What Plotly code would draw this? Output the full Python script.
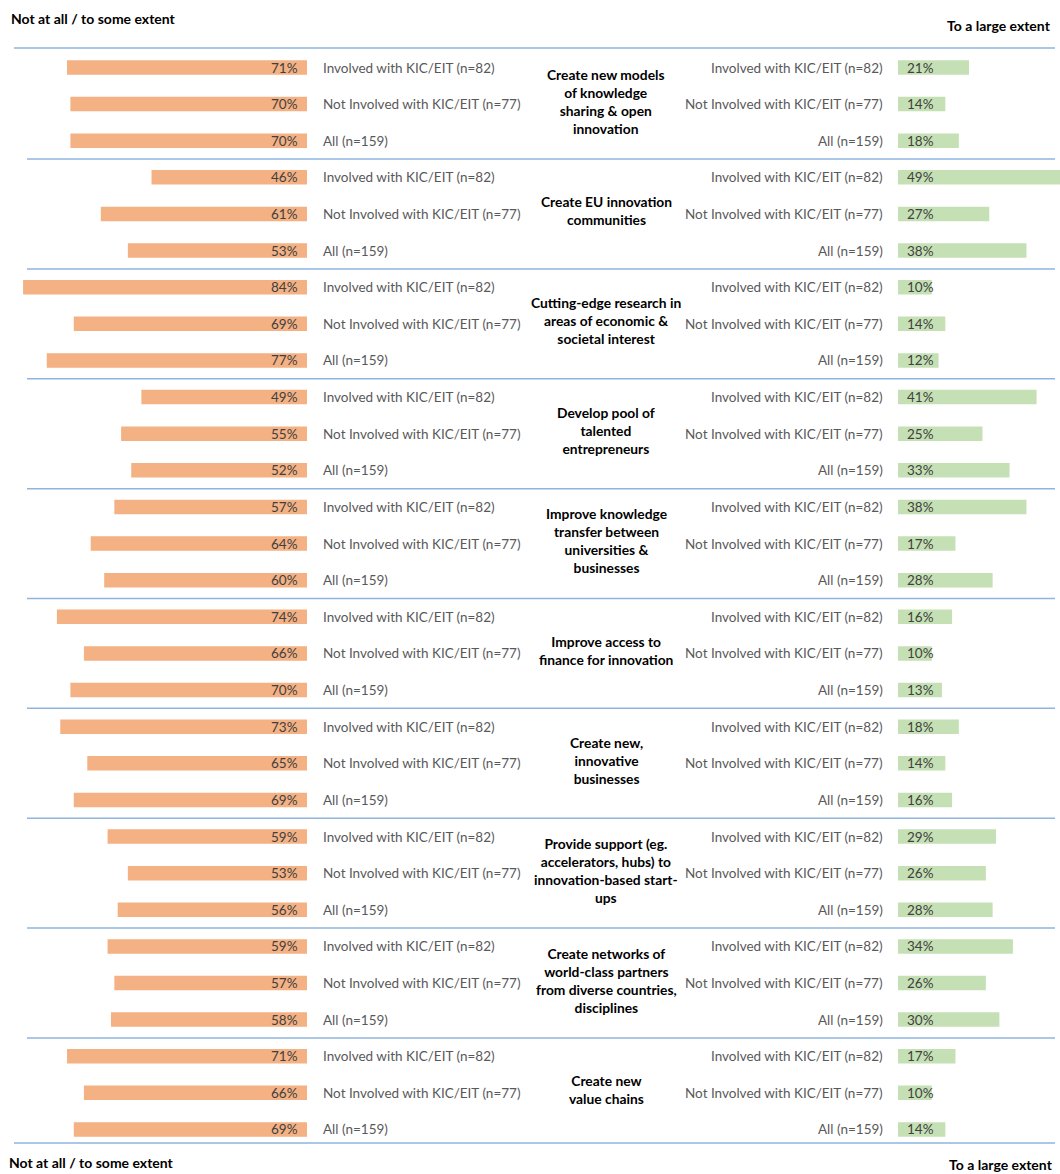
import plotly.graph_objects as go

# ---------------- data ----------------
categories = [
    "Create new models<br>of knowledge<br>sharing & open<br>innovation",
    "Create EU innovation<br>communities",
    "Cutting-edge research in<br>areas of economic &<br>societal interest",
    "Develop pool of<br>talented<br>entrepreneurs",
    "Improve knowledge<br>transfer between<br>universities &<br>businesses",
    "Improve access to<br>finance for innovation",
    "Create new,<br>innovative<br>businesses",
    "Provide support (eg.<br>accelerators, hubs) to<br>innovation-based start-<br>ups",
    "Create networks of<br>world-class partners<br>from diverse countries,<br>disciplines",
    "Create new<br>value chains",
]
groups = ["Involved with KIC/EIT (n=82)", "Not Involved with KIC/EIT (n=77)", "All (n=159)"]

some_involved     = [71, 46, 84, 49, 57, 74, 73, 59, 59, 71]
some_not_involved = [70, 61, 69, 55, 64, 66, 65, 53, 57, 66]
some_all          = [70, 53, 77, 52, 60, 70, 69, 56, 58, 69]

large_involved     = [21, 49, 10, 41, 38, 16, 18, 29, 34, 17]
large_not_involved = [14, 27, 14, 25, 17, 10, 14, 26, 26, 10]
large_all          = [18, 38, 12, 33, 28, 13, 16, 28, 30, 14]

left_title = "Not at all / to some extent"
right_title = "To a large extent"

# ---------------- layout helpers ----------------
W, H = 1060, 1174
Y0, STEP = 67.5, 36.62
PX_PER_PCT = 3.38
LEFT_ZERO_PX = 307
RIGHT_ZERO_PX = 898

left_series = [some_involved, some_not_involved, some_all]
right_series = [large_involved, large_not_involved, large_all]

ys, lv, rv, glabels = [], [], [], []
for g in range(len(categories)):
    for r in range(3):
        i = 3 * g + r
        ys.append(Y0 + STEP * i)
        lv.append(left_series[r][g])
        rv.append(right_series[r][g])
        glabels.append(groups[r])

ORANGE = "#F4B183"
GREEN = "#C5E0B4"
PCT_COLOR = "#404040"
LBL_COLOR = "#595959"
LINE_COLOR = "#8FB4E0"
FONT = "Lato"

fig = go.Figure()
fig.add_trace(go.Bar(
    y=ys, x=lv, orientation="h", width=14.5, xaxis="x", yaxis="y",
    marker=dict(color=ORANGE, line=dict(width=0)), hoverinfo="skip", showlegend=False,
))
fig.add_trace(go.Bar(
    y=ys, x=rv, orientation="h", width=14.5, xaxis="x2", yaxis="y",
    marker=dict(color=GREEN, line=dict(width=0)), hoverinfo="skip", showlegend=False,
))

ann = []
for y, a, b, gl in zip(ys, lv, rv, glabels):
    ann.append(dict(x=0, y=y, xref="x", yref="y", text=f"{a}%", showarrow=False,
                    xanchor="right", xshift=-7, yanchor="middle",
                    font=dict(family=FONT, size=13.5, color=PCT_COLOR)))
    ann.append(dict(x=0, y=y, xref="x2", yref="y", text=f"{b}%", showarrow=False,
                    xanchor="left", xshift=7, yanchor="middle",
                    font=dict(family=FONT, size=13.5, color=PCT_COLOR)))
    ann.append(dict(x=321 / W, y=y, xref="paper", yref="y", text=gl, showarrow=False,
                    xanchor="left", yanchor="middle",
                    font=dict(family=FONT, size=13.5, color=LBL_COLOR)))
    ann.append(dict(x=885 / W, y=y, xref="paper", yref="y", text=gl, showarrow=False,
                    xanchor="right", yanchor="middle",
                    font=dict(family=FONT, size=13.5, color=LBL_COLOR)))

for g, cat in enumerate(categories):
    ymid = Y0 + STEP * (3 * g + 1)
    ann.append(dict(x=606 / W, y=ymid - 3, xref="paper", yref="y", text=f"<b>{cat}</b>",
                    showarrow=False, xanchor="center", yanchor="middle", align="center",
                    font=dict(family=FONT, size=13.8, color="#000000")))

# headers
ann += [
    dict(x=9 / W, y=18, xref="paper", yref="y", text=f"<b>{left_title}</b>", showarrow=False,
         xanchor="left", yanchor="middle", font=dict(family=FONT, size=14, color="#000")),
    dict(x=1053 / W, y=25, xref="paper", yref="y", text=f"<b>{right_title}</b>", showarrow=False,
         xanchor="right", yanchor="middle", font=dict(family=FONT, size=14, color="#000")),
    dict(x=7 / W, y=1162, xref="paper", yref="y", text=f"<b>{left_title}</b>", showarrow=False,
         xanchor="left", yanchor="middle", font=dict(family=FONT, size=14, color="#000")),
    dict(x=1055 / W, y=1164.5, xref="paper", yref="y", text=f"<b>{right_title}</b>", showarrow=False,
         xanchor="right", yanchor="middle", font=dict(family=FONT, size=14, color="#000")),
]

shapes = []
n = len(categories)
line_ys = [48] + [(Y0 + STEP * (3 * g - 1) + Y0 + STEP * (3 * g)) / 2 for g in range(1, n)] + [1143]
for k, ly in enumerate(line_ys):
    x0 = 14 if k in (0, n) else 27
    shapes.append(dict(type="line", xref="paper", yref="y", x0=x0 / W, x1=1055 / W, y0=ly, y1=ly,
                       line=dict(color=LINE_COLOR, width=1.5)))

fig.update_layout(
    width=W, height=H, margin=dict(l=0, r=0, t=0, b=0),
    paper_bgcolor="white", plot_bgcolor="rgba(0,0,0,0)",
    barmode="overlay", annotations=ann, shapes=shapes,
    xaxis=dict(domain=[0, LEFT_ZERO_PX / W], range=[LEFT_ZERO_PX / PX_PER_PCT, 0],
               visible=False, fixedrange=True),
    xaxis2=dict(domain=[RIGHT_ZERO_PX / W, 1], range=[0, (W - RIGHT_ZERO_PX) / PX_PER_PCT],
                visible=False, fixedrange=True),
    yaxis=dict(domain=[0, 1], range=[H, 0], visible=False, fixedrange=True),
)

fig.write_html(
    "out.html",
    config={"displayModeBar": False},
    post_script="document.body.style.margin='0px';document.body.style.overflow='hidden';",
)
